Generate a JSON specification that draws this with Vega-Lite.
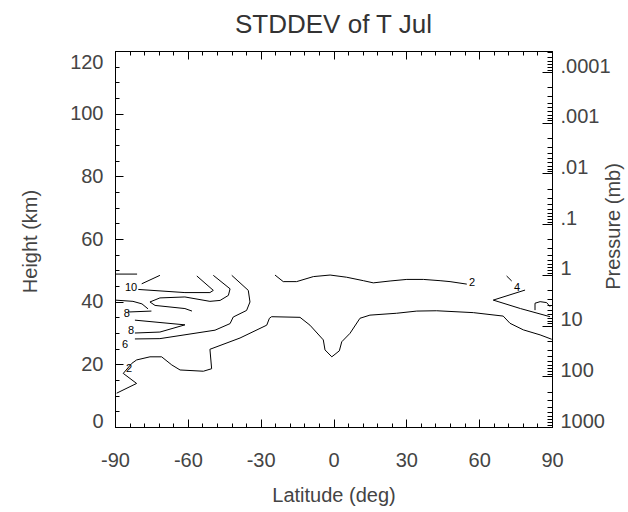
{
  "$schema": "https://vega.github.io/schema/vega-lite/v6.json",
  "width": 437,
  "height": 376,
  "autosize": "none",
  "padding": {"left": 115, "top": 51, "right": 76, "bottom": 85},
  "background": "white",
  "title": {"text": "STDDEV of T Jul", "font": "Liberation Sans", "fontSize": 26, "fontWeight": "normal", "color": "#333333", "offset": -2},
  "config": {
    "view": {"stroke": "black", "strokeWidth": 1},
    "axis": {"labelFont": "Liberation Sans", "titleFont": "Liberation Sans", "labelFontSize": 20, "titleFontSize": 20, "titleFontWeight": "normal", "labelColor": "#444444", "titleColor": "#444444", "domainColor": "black", "tickColor": "black", "grid": false, "labelFlush": false, "labelOverlap": false}
  },
  "datasets": {
    "contours": [
      {"c": "A", "i": 1, "lon": -24.1, "h": 48.5}, {"c": "A", "i": 2, "lon": -20.7, "h": 46.4}, {"c": "A", "i": 3, "lon": -15.2, "h": 46.4}, {"c": "A", "i": 4, "lon": -8.3, "h": 48.0}, {"c": "A", "i": 5, "lon": -1.4, "h": 48.5}, {"c": "A", "i": 6, "lon": 5.4, "h": 47.8}, {"c": "A", "i": 7, "lon": 12.3, "h": 46.7}, {"c": "A", "i": 8, "lon": 16.4, "h": 46.0}, {"c": "A", "i": 9, "lon": 23.3, "h": 46.6}, {"c": "A", "i": 10, "lon": 30.2, "h": 47.1}, {"c": "A", "i": 11, "lon": 37.0, "h": 47.1}, {"c": "A", "i": 12, "lon": 43.9, "h": 46.7}, {"c": "A", "i": 13, "lon": 48.0, "h": 46.4}, {"c": "A", "i": 14, "lon": 54.9, "h": 45.6},
      {"c": "B", "i": 1, "lon": -89.3, "h": 10.8}, {"c": "B", "i": 2, "lon": -81.1, "h": 13.9}, {"c": "B", "i": 3, "lon": -86.6, "h": 17.1}, {"c": "B", "i": 4, "lon": -83.1, "h": 20.3}, {"c": "B", "i": 5, "lon": -81.1, "h": 21.4}, {"c": "B", "i": 6, "lon": -75.6, "h": 22.4}, {"c": "B", "i": 7, "lon": -70.8, "h": 22.4}, {"c": "B", "i": 8, "lon": -66.6, "h": 19.8}, {"c": "B", "i": 9, "lon": -63.2, "h": 18.2}, {"c": "B", "i": 10, "lon": -53.6, "h": 17.8}, {"c": "B", "i": 11, "lon": -50.2, "h": 18.6}, {"c": "B", "i": 12, "lon": -50.9, "h": 24.8}, {"c": "B", "i": 13, "lon": -38.5, "h": 28.4}, {"c": "B", "i": 14, "lon": -27.5, "h": 32.5}, {"c": "B", "i": 15, "lon": -26.4, "h": 34.7}, {"c": "B", "i": 16, "lon": -25.5, "h": 35.2}, {"c": "B", "i": 17, "lon": -13.8, "h": 35.0}, {"c": "B", "i": 18, "lon": -9.7, "h": 32.5}, {"c": "B", "i": 19, "lon": -4.2, "h": 27.8}, {"c": "B", "i": 20, "lon": -3.5, "h": 24.6}, {"c": "B", "i": 21, "lon": -0.7, "h": 22.4}, {"c": "B", "i": 22, "lon": 2.4, "h": 24.3}, {"c": "B", "i": 23, "lon": 3.4, "h": 27.2}, {"c": "B", "i": 24, "lon": 6.8, "h": 29.9}, {"c": "B", "i": 25, "lon": 10.9, "h": 34.7}, {"c": "B", "i": 26, "lon": 15.0, "h": 35.7}, {"c": "B", "i": 27, "lon": 26.0, "h": 36.3}, {"c": "B", "i": 28, "lon": 34.3, "h": 37.0}, {"c": "B", "i": 29, "lon": 42.5, "h": 37.1}, {"c": "B", "i": 30, "lon": 57.6, "h": 36.5}, {"c": "B", "i": 31, "lon": 69.9, "h": 35.4}, {"c": "B", "i": 32, "lon": 72.7, "h": 33.1}, {"c": "B", "i": 33, "lon": 78.2, "h": 31.0}, {"c": "B", "i": 34, "lon": 85.1, "h": 29.4}, {"c": "B", "i": 35, "lon": 89.9, "h": 28.0},
      {"c": "C1", "i": 1, "lon": 71.3, "h": 48.2}, {"c": "C1", "i": 2, "lon": 73.4, "h": 46.6},
      {"c": "C2", "i": 1, "lon": 78.9, "h": 43.7}, {"c": "C2", "i": 2, "lon": 65.8, "h": 40.5}, {"c": "C2", "i": 3, "lon": 77.0, "h": 37.8}, {"c": "C2", "i": 4, "lon": 89.2, "h": 35.2},
      {"c": "L", "i": 1, "lon": 83.0, "h": 37.3}, {"c": "L", "i": 2, "lon": 83.0, "h": 39.5}, {"c": "L", "i": 3, "lon": 85.1, "h": 40.0}, {"c": "L", "i": 4, "lon": 87.8, "h": 39.7}, {"c": "L", "i": 5, "lon": 89.2, "h": 38.4},
      {"c": "D1", "i": 1, "lon": -79.0, "h": 45.7}, {"c": "D1", "i": 2, "lon": -71.5, "h": 48.4},
      {"c": "D", "i": 1, "lon": -80.4, "h": 43.9}, {"c": "D", "i": 2, "lon": -61.2, "h": 42.9}, {"c": "D", "i": 3, "lon": -50.9, "h": 42.9}, {"c": "D", "i": 4, "lon": -49.5, "h": 43.6}, {"c": "D", "i": 5, "lon": -56.3, "h": 48.2},
      {"c": "E", "i": 1, "lon": -49.5, "h": 48.4}, {"c": "E", "i": 2, "lon": -42.6, "h": 44.1}, {"c": "E", "i": 3, "lon": -43.3, "h": 42.0}, {"c": "E", "i": 4, "lon": -46.7, "h": 40.4}, {"c": "E", "i": 5, "lon": -50.9, "h": 40.1}, {"c": "E", "i": 6, "lon": -61.2, "h": 41.5}, {"c": "E", "i": 7, "lon": -71.5, "h": 41.2}, {"c": "E", "i": 8, "lon": -75.6, "h": 39.9}, {"c": "E", "i": 9, "lon": -73.5, "h": 38.8}, {"c": "E", "i": 10, "lon": -61.2, "h": 37.8}, {"c": "E", "i": 11, "lon": -58.3, "h": 37.0},
      {"c": "G", "i": 1, "lon": -84.6, "h": 36.7}, {"c": "G", "i": 2, "lon": -75.0, "h": 37.0},
      {"c": "V", "i": 1, "lon": -81.8, "h": 34.1}, {"c": "V", "i": 2, "lon": -61.2, "h": 32.6}, {"c": "V", "i": 3, "lon": -71.5, "h": 30.3}, {"c": "V", "i": 4, "lon": -81.8, "h": 30.0},
      {"c": "F", "i": 1, "lon": -41.9, "h": 48.4}, {"c": "F", "i": 2, "lon": -35.1, "h": 43.6}, {"c": "F", "i": 3, "lon": -34.4, "h": 39.9}, {"c": "F", "i": 4, "lon": -35.8, "h": 37.2}, {"c": "F", "i": 5, "lon": -41.3, "h": 35.1}, {"c": "F", "i": 6, "lon": -42.6, "h": 33.0}, {"c": "F", "i": 7, "lon": -48.8, "h": 30.9}, {"c": "F", "i": 8, "lon": -71.5, "h": 28.2}, {"c": "F", "i": 9, "lon": -81.8, "h": 28.1},
      {"c": "H", "i": 1, "lon": -90.0, "h": 48.8}, {"c": "H", "i": 2, "lon": -80.9, "h": 48.8},
      {"c": "I", "i": 1, "lon": -90.0, "h": 40.5}, {"c": "I", "i": 2, "lon": -82.6, "h": 40.1}, {"c": "I", "i": 3, "lon": -78.9, "h": 39.3}, {"c": "I", "i": 4, "lon": -76.4, "h": 37.7}
    ],
    "labels": [
      {"t": "10", "lon": -83.4, "h": 44.4},
      {"t": "8", "lon": -85.1, "h": 36.1},
      {"t": "8", "lon": -83.4, "h": 30.6},
      {"t": "6", "lon": -85.9, "h": 26.2},
      {"t": "2", "lon": -84.2, "h": 18.5},
      {"t": "2", "lon": 57.1, "h": 46.0},
      {"t": "4", "lon": 75.6, "h": 44.4}
    ],
    "frame": [{"lat": 0, "p": 1}]
  },
  "layer": [
    {
      "encoding": {
        "x": {"field": "lon", "type": "quantitative", "scale": {"domain": [-90, 90], "nice": false},
          "axis": {"orient": "bottom", "title": "Latitude (deg)", "values": [-90, -84, -78, -72, -66, -60, -54, -48, -42, -36, -30, -24, -18, -12, -6, 0, 6, 12, 18, 24, 30, 36, 42, 48, 54, 60, 66, 72, 78, 84, 90],
            "labelExpr": "datum.value % 30 == 0 ? replace(datum.label, '\u2212', '-') : ''",
            "labelOverlap": false, "labelFlush": false,
            "tickSize": {"condition": {"test": "datum.value % 30 == 0", "value": -8}, "value": -4},
            "labelPadding": 31, "titleX": 218.5, "titleY": 68, "titleBaseline": "middle", "titleAlign": "center"}},
        "y": {"field": "h", "type": "quantitative", "scale": {"domain": [0, 120], "nice": false},
          "axis": {"orient": "left", "title": "Height (km)", "values": [0, 5, 10, 15, 20, 25, 30, 35, 40, 45, 50, 55, 60, 65, 70, 75, 80, 85, 90, 95, 100, 105, 110, 115, 120],
            "labelExpr": "datum.value % 20 == 0 ? datum.label : ''",
            "labelOverlap": false, "labelFlush": false,
            "tickSize": {"condition": {"test": "datum.value % 20 == 0", "value": -8}, "value": -4},
            "labelBaseline": {"condition": {"test": "datum.value == 0", "value": "alphabetic"}, "value": "middle"},
            "labelOffset": {"condition": {"test": "datum.value == 120", "value": 11}, "value": 0},
            "labelPadding": 20,
            "titleAngle": 270, "titleX": -85, "titleY": 190, "titleBaseline": "middle", "titleAlign": "center"}}
      },
      "layer": [
        {
          "data": {"name": "contours"},
          "mark": {"type": "line", "color": "black", "strokeWidth": 1, "interpolate": "linear"},
          "encoding": {
            "detail": {"field": "c"},
            "order": {"field": "i", "type": "quantitative"}
          }
        },
        {
          "data": {"name": "labels"},
          "mark": {"type": "text", "font": "Liberation Sans", "fontSize": 11, "color": "black", "align": "center", "baseline": "middle"},
          "encoding": {
            "text": {"field": "t"}
          }
        }
      ]
    },
    {
      "data": {"name": "frame"},
      "mark": {"type": "point", "opacity": 0},
      "encoding": {
        "x": {"field": "lat", "type": "quantitative", "scale": {"domain": [-90, 90], "nice": false},
          "axis": {"orient": "top", "title": null, "labels": false, "values": [-90, -84, -78, -72, -66, -60, -54, -48, -42, -36, -30, -24, -18, -12, -6, 0, 6, 12, 18, 24, 30, 36, 42, 48, 54, 60, 66, 72, 78, 84, 90],
            "tickSize": {"condition": {"test": "datum.value % 30 == 0", "value": -8}, "value": -4}}},
        "y": {"field": "p", "type": "quantitative", "scale": {"type": "log", "domain": [0.0000385, 1000], "reverse": true, "nice": false},
          "axis": {"orient": "right", "title": "Pressure (mb)",
            "values": [0.00004, 0.00005, 0.00006, 0.00007, 0.00008, 0.00009, 0.0001, 0.0002, 0.0003, 0.0004, 0.0005, 0.0006, 0.0007, 0.0008, 0.0009, 0.001, 0.002, 0.003, 0.004, 0.005, 0.006, 0.007, 0.008, 0.009, 0.01, 0.02, 0.03, 0.04, 0.05, 0.06, 0.07, 0.08, 0.09, 0.1, 0.2, 0.3, 0.4, 0.5, 0.6, 0.7, 0.8, 0.9, 1, 2, 3, 4, 5, 6, 7, 8, 9, 10, 20, 30, 40, 50, 60, 70, 80, 90, 100, 200, 300, 400, 500, 600, 700, 800, 900, 1000],
            "labelExpr": "abs(log(datum.value)/LN10 - round(log(datum.value)/LN10)) < 0.001 ? (datum.value >= 1 ? format(datum.value, 'd') : replace(format(datum.value, '~g'), '0.', '.')) : ''",
            "labelOverlap": false, "labelFlush": false,
            "tickSize": {"condition": {"test": "abs(log(datum.value)/LN10 - round(log(datum.value)/LN10)) < 0.001", "value": -10}, "value": -5},
            "labelBaseline": "alphabetic", "labelPadding": 18,
            "titleAngle": 270, "titleX": 61, "titleY": 175, "titleBaseline": "middle", "titleAlign": "center"}}
      }
    }
  ],
  "resolve": {"scale": {"x": "independent", "y": "independent"}}
}
